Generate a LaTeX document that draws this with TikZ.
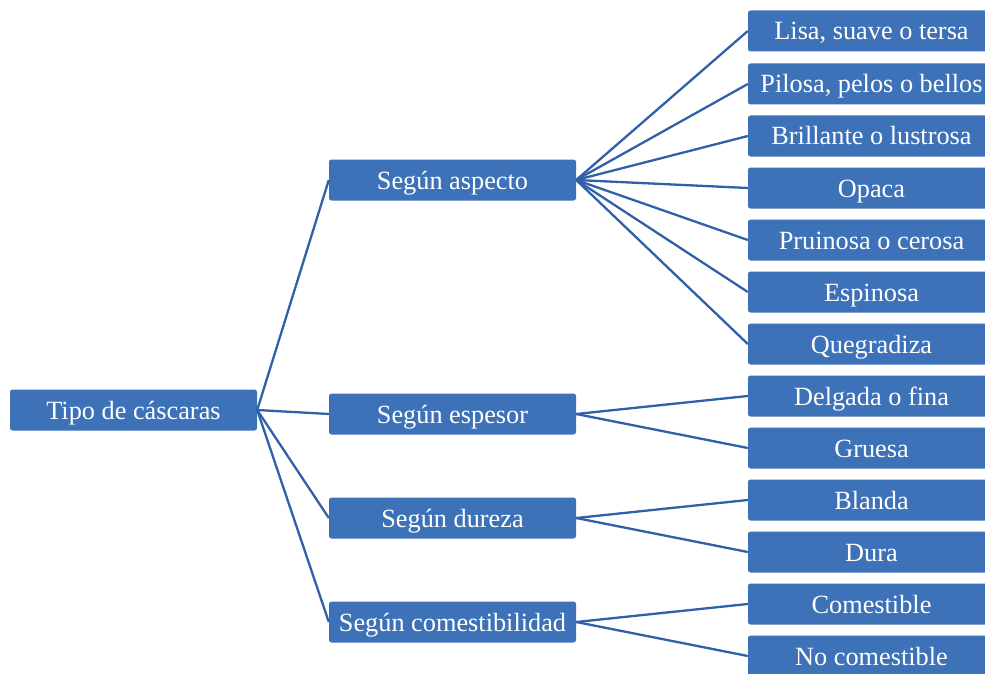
\documentclass[tikz,border=0pt]{standalone}
\usepackage{fontspec}
\setmainfont{Liberation Serif}
\definecolor{boxblue}{RGB}{61,114,185}
\definecolor{lineblue}{RGB}{47,96,168}
\begin{document}
\begin{tikzpicture}[x=1pt,y=-1pt,
  bx/.style={draw=none,fill=boxblue,rounded corners=2.5pt,text=white,
    minimum width=247pt,minimum height=41pt,inner sep=0pt,
    text height=20pt,text depth=2pt,
    font=\fontsize{26.3}{29}\selectfont},
  ln/.style={draw=lineblue,line width=2.3pt}]
\useasboundingbox (0,0) rectangle (985,674);
\clip (0,0) rectangle (985,674);
\node[bx] (root) at (133.5,410) {Tipo de cáscaras};
\node[bx] (m1) at (452.5,180) {Según aspecto};
\node[bx] (m2) at (452.5,414) {Según espesor};
\node[bx] (m3) at (452.5,518) {Según dureza};
\node[bx] (m4) at (452.5,622) {Según comestibilidad};
\foreach \n/\y/\t in {r1/31/{Lisa, suave o tersa},r2/84/{Pilosa, pelos o bellos},
  r3/136/{Brillante o lustrosa},r4/188/{Opaca},r5/240/{Pruinosa o cerosa},
  r6/292/{Espinosa},r7/344/{Quegradiza},r8/396/{Delgada o fina},r9/448/{Gruesa},
  r10/500/{Blanda},r11/552/{Dura},r12/604/{Comestible},r13/656/{No comestible}}
  \node[bx] (\n) at (871.5,\y) {\t};
\foreach \m in {m1,m2,m3,m4} \draw[ln] (root.east) -- (\m.west);
\foreach \r in {r1,r2,r3,r4,r5,r6,r7} \draw[ln] (m1.east) -- (\r.west);
\foreach \r in {r8,r9} \draw[ln] (m2.east) -- (\r.west);
\foreach \r in {r10,r11} \draw[ln] (m3.east) -- (\r.west);
\foreach \r in {r12,r13} \draw[ln] (m4.east) -- (\r.west);
\end{tikzpicture}
\end{document}
